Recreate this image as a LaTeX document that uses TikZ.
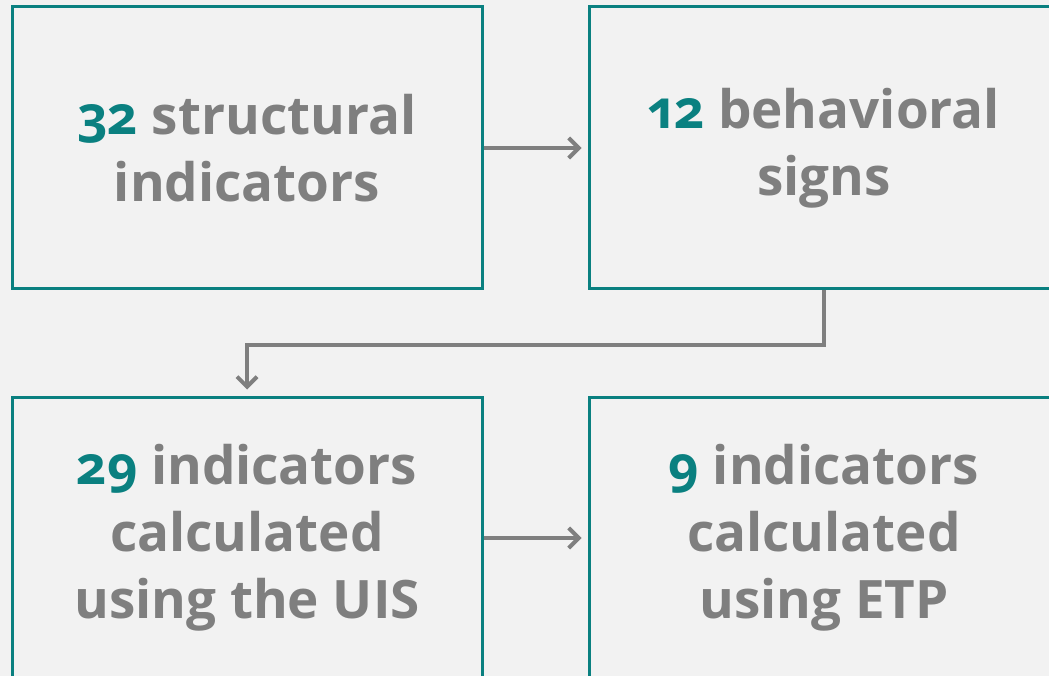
\documentclass[tikz,border=0pt]{standalone}
\usepackage{fontspec}
\setmainfont{Open Sans}[Numbers=OldStyle]
\usetikzlibrary{arrows.meta}
\definecolor{bg}{HTML}{F2F2F2}
\definecolor{teal}{HTML}{0A8080}
\definecolor{txt}{HTML}{7F7F7F}
\tikzset{
  box/.style={draw=teal, line width=3pt, minimum width=470pt, minimum height=282pt,
    inner sep=0pt, align=center, text=txt, font=\bfseries\fontsize{53}{67}\selectfont},
  conn/.style={draw=txt, line width=4pt, shorten >=6pt,
    -{Straight Barb[length=10pt,width=20pt,line width=4pt]}},
}
\newcommand{\num}[1]{\textcolor{teal}{#1}}
\begin{document}
\begin{tikzpicture}[x=1pt,y=-1pt]
\fill[bg] (0,0) rectangle (1049,676);
\useasboundingbox (0,0) rectangle (1049,676);
\node[box] (b1) at (247,148) {\num{32} structural\\indicators};
\node[box] (b2) at (824,148) {\num{12} behavioral\\signs};
\node[box] (b3) at (247,538) {\num{29} indicators\\calculated\\using the UIS};
\node[box] (b4) at (824,538) {\num{9} indicators\\calculated\\using ETP};
\draw[conn] (b1.east) -- (b2.west);
\draw[conn] (b2.south) -- ++(0,54) -| (b3.north);
\draw[conn] (b3.east) -- (b4.west);
\end{tikzpicture}
\end{document}
